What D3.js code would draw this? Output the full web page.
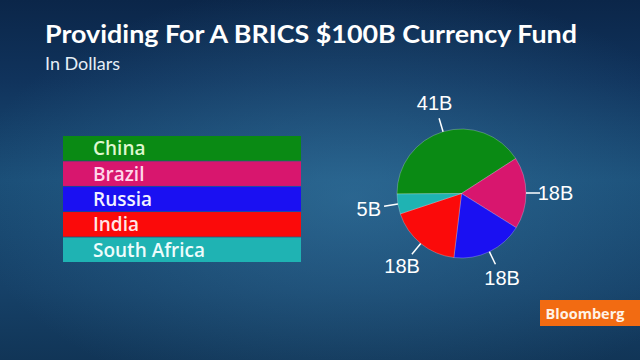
<!DOCTYPE html>
<html><head><meta charset="utf-8">
<script src="https://cdn.jsdelivr.net/npm/d3@7/dist/d3.min.js"></script>
<style>html,body{margin:0;padding:0;background:#0c2a4f;}svg{display:block;}</style>
</head><body>
<script>
const categories = ["China", "Brazil", "Russia", "India", "South Africa"];
const values = [41, 18, 18, 18, 5];
const valueLabels = ["41B", "18B", "18B", "18B", "5B"];
const colors = ["#0a8a14", "#d8166e", "#1a10f2", "#fb0a0a", "#1fb3b3"];
const legendTextColors = ["#dff7cf", "#ffd6ea", "#f2f2ff", "#ffe6e6", "#eefcfc"];
const title = "Providing For A BRICS $100B Currency Fund";
const subtitle = "In Dollars";
const brand = "Bloomberg";

const W = 640, H = 360;
const svg = d3.select("body").append("svg").attr("width", W).attr("height", H);
const defs = svg.append("defs");

// background
const lg = defs.append("linearGradient").attr("id","bg").attr("x1",0).attr("y1",0).attr("x2",0).attr("y2",1);
lg.append("stop").attr("offset","0").attr("stop-color","#0b2649");
lg.append("stop").attr("offset","0.22").attr("stop-color","#10335c");
lg.append("stop").attr("offset","0.5").attr("stop-color","#1a4d76");
lg.append("stop").attr("offset","0.8").attr("stop-color","#164168");
lg.append("stop").attr("offset","1").attr("stop-color","#113557");
svg.append("rect").attr("width",W).attr("height",H).attr("fill","url(#bg)");
const rg = defs.append("radialGradient").attr("id","glow").attr("cx","0.55").attr("cy","0.55").attr("r","0.6");
rg.append("stop").attr("offset","0").attr("stop-color","#3f86b2").attr("stop-opacity",0.45);
rg.append("stop").attr("offset","1").attr("stop-color","#3f86b2").attr("stop-opacity",0);
svg.append("rect").attr("width",W).attr("height",H).attr("fill","url(#glow)");

// title
svg.append("text").attr("x",45).attr("y",43).text(title)
  .attr("fill","#ffffff").attr("font-family","Lato, 'Open Sans', sans-serif")
  .attr("font-weight",700).attr("font-size",25)
  .attr("textLength",532).attr("lengthAdjust","spacingAndGlyphs");
svg.append("text").attr("x",45).attr("y",70).text(subtitle)
  .attr("fill","#e6eef6").attr("font-family","Lato, 'Open Sans', sans-serif")
  .attr("font-weight",400).attr("font-size",18);

// legend
const band = d3.scaleBand().domain(categories).range([136, 262]).paddingInner(0.03);
const leg = svg.append("g");
leg.selectAll("rect").data(categories).join("rect")
  .attr("x",63).attr("width",238)
  .attr("y",d=>band(d)).attr("height",band.bandwidth())
  .attr("fill",(d,i)=>colors[i]);
leg.selectAll("text").data(categories).join("text")
  .attr("x",93).attr("y",d=>band(d)+band.bandwidth()/2)
  .attr("dominant-baseline","central")
  .attr("fill",(d,i)=>legendTextColors[i])
  .attr("font-family","'Open Sans', Lato, sans-serif").attr("font-weight",600).attr("font-size",19)
  .text(d=>d);

// pie
const cx = 461.5, cy = 193.5, r = 64.5;
const pie = d3.pie().sort(null).value(d=>d)
  .startAngle(-Math.PI/2 - 0.007).endAngle(1.5*Math.PI - 0.007);
const arcs = pie(values);
const arc = d3.arc().innerRadius(0).outerRadius(r);
const g = svg.append("g").attr("transform",`translate(${cx},${cy})`);
g.selectAll("path").data(arcs).join("path")
  .attr("d",arc).attr("fill",(d,i)=>colors[i])
  .attr("stroke","rgba(255,255,255,0.3)").attr("stroke-width",0.8);

const mid = d => (d.startAngle + d.endAngle)/2;
const pt = (a, rad) => [Math.sin(a)*rad, -Math.cos(a)*rad];
g.selectAll("line").data(arcs).join("line")
  .attr("x1",d=>pt(mid(d), r)[0]).attr("y1",d=>pt(mid(d), r)[1])
  .attr("x2",d=>pt(mid(d), r+14)[0]).attr("y2",d=>pt(mid(d), r+14)[1])
  .attr("stroke","#ffffff").attr("stroke-width",1.5);
g.selectAll("text").data(arcs).join("text")
  .attr("x",d=>pt(mid(d), 94)[0]).attr("y",d=>pt(mid(d), 94)[1])
  .attr("text-anchor","middle").attr("dominant-baseline","central")
  .attr("fill","#ffffff").attr("font-family","'Liberation Sans', Arial, sans-serif")
  .attr("font-size",20)
  .text((d,i)=>valueLabels[i]);

// brand
svg.append("rect").attr("x",540).attr("y",300).attr("width",100).attr("height",26).attr("fill","#f26b12");
svg.append("text").attr("x",585).attr("y",313.5).attr("text-anchor","middle").attr("dominant-baseline","central")
  .attr("fill","#fff3e6").attr("font-family","'Open Sans', sans-serif").attr("font-weight",700).attr("font-size",14.5)
  .text(brand);
</script>
</body></html>
